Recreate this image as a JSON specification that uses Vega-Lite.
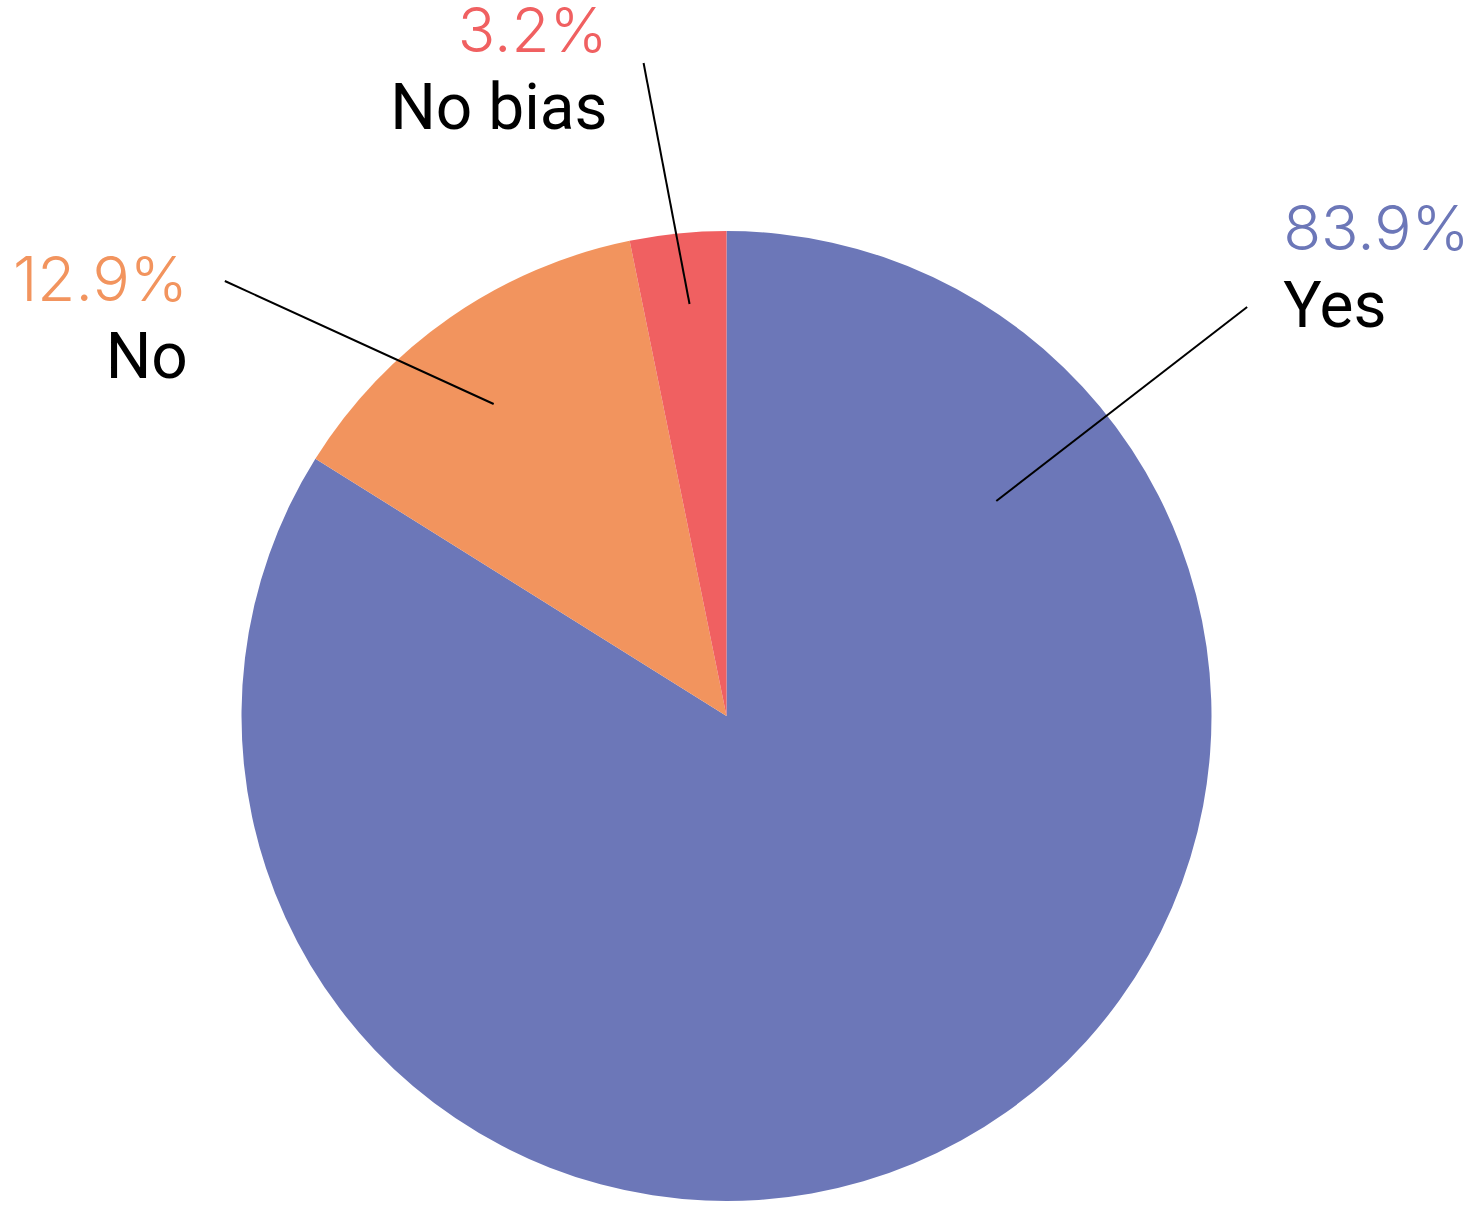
{
  "$schema": "https://vega.github.io/schema/vega-lite/v6.json",
  "width": 1470,
  "height": 1205,
  "padding": 0,
  "autosize": {"type": "fit", "contains": "padding"},
  "background": "white",
  "config": {"view": {"stroke": null}},
  "datasets": {
    "slices": [
      {"answer": "Yes", "value": 83.9, "pct": "83.9%"},
      {"answer": "No", "value": 12.9, "pct": "12.9%"},
      {"answer": "No bias", "value": 3.2, "pct": "3.2%"}
    ],
    "labels": [
      {"answer": "Yes", "pct": "83.9%", "side": "left", "lx": 1284, "py": 250, "cy": 327},
      {"answer": "No", "pct": "12.9%", "side": "right", "lx": 188, "py": 301, "cy": 378},
      {"answer": "No bias", "pct": "3.2%", "side": "right", "lx": 608, "py": 52, "cy": 129}
    ],
    "leaders": [
      {"answer": "Yes", "x1": 997, "y1": 501, "x2": 1248, "y2": 307},
      {"answer": "No", "x1": 494, "y1": 404, "x2": 225, "y2": 281},
      {"answer": "No bias", "x1": 690, "y1": 304, "x2": 644, "y2": 63}
    ]
  },
  "layer": [
    {
      "data": {"name": "slices"},
      "mark": {"type": "arc", "outerRadius": 485},
      "encoding": {
        "theta": {"field": "value", "type": "quantitative", "stack": true},
        "order": {"field": "value", "type": "quantitative", "sort": "descending"},
        "color": {
          "field": "answer",
          "type": "nominal",
          "scale": {"domain": ["Yes", "No", "No bias"], "range": ["#6c77b8", "#f2945e", "#f06061"]},
          "legend": null
        },
        "x": {"datum": 727, "type": "quantitative", "scale": {"domain": [0, 1470], "nice": false, "zero": false}, "axis": null},
        "y": {"datum": 716, "type": "quantitative", "scale": {"domain": [0, 1205], "nice": false, "zero": false, "reverse": true}, "axis": null}
      }
    },
    {
      "data": {"name": "leaders"},
      "mark": {"type": "rule", "color": "black", "strokeWidth": 2},
      "encoding": {
        "x": {"field": "x1", "type": "quantitative"},
        "y": {"field": "y1", "type": "quantitative"},
        "x2": {"field": "x2"},
        "y2": {"field": "y2"}
      }
    },
    {
      "data": {"name": "labels"},
      "transform": [{"filter": "datum.side === 'left'"}],
      "mark": {"type": "text", "align": "left", "baseline": "alphabetic", "font": "Inter", "fontSize": 62, "fontWeight": 300},
      "encoding": {
        "x": {"field": "lx", "type": "quantitative"},
        "y": {"field": "py", "type": "quantitative"},
        "text": {"field": "pct"},
        "color": {"field": "answer", "type": "nominal", "legend": null}
      }
    },
    {
      "data": {"name": "labels"},
      "transform": [{"filter": "datum.side === 'right'"}],
      "mark": {"type": "text", "align": "right", "baseline": "alphabetic", "font": "Inter", "fontSize": 62, "fontWeight": 300},
      "encoding": {
        "x": {"field": "lx", "type": "quantitative"},
        "y": {"field": "py", "type": "quantitative"},
        "text": {"field": "pct"},
        "color": {"field": "answer", "type": "nominal", "legend": null}
      }
    },
    {
      "data": {"name": "labels"},
      "transform": [{"filter": "datum.side === 'left'"}],
      "mark": {"type": "text", "align": "left", "baseline": "alphabetic", "font": "Roboto", "fontSize": 64, "fontWeight": 400, "color": "black"},
      "encoding": {
        "x": {"field": "lx", "type": "quantitative"},
        "y": {"field": "cy", "type": "quantitative"},
        "text": {"field": "answer"}
      }
    },
    {
      "data": {"name": "labels"},
      "transform": [{"filter": "datum.side === 'right'"}],
      "mark": {"type": "text", "align": "right", "baseline": "alphabetic", "font": "Roboto", "fontSize": 64, "fontWeight": 400, "color": "black"},
      "encoding": {
        "x": {"field": "lx", "type": "quantitative"},
        "y": {"field": "cy", "type": "quantitative"},
        "text": {"field": "answer"}
      }
    }
  ]
}
